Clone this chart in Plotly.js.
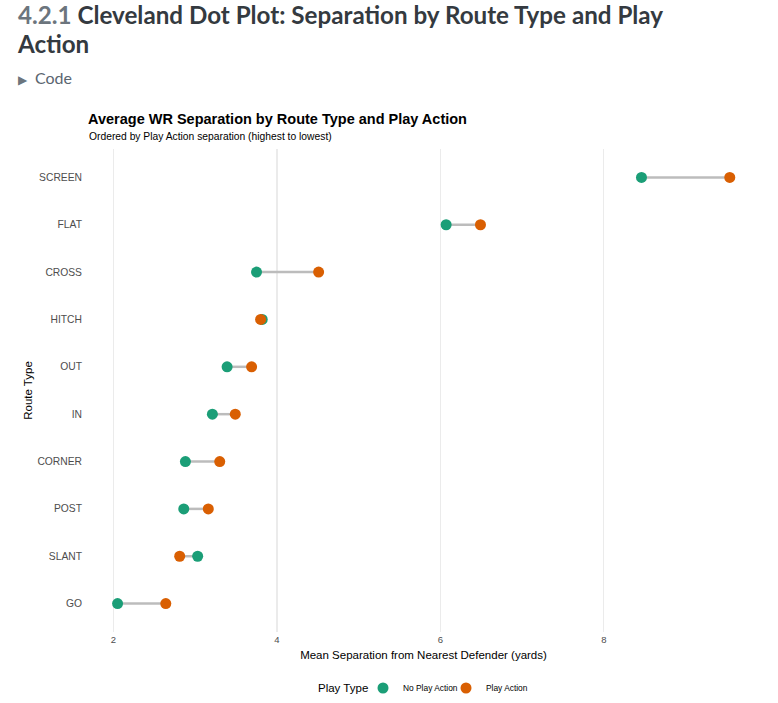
<!DOCTYPE html>
<html>
<head>
<meta charset="utf-8">
<script src="https://cdn.plot.ly/plotly-3.0.1.min.js"></script>
<style>
  html, body { margin: 0; padding: 0; background: #fff; width: 778px; height: 703px; overflow: hidden; }
  #head { position: absolute; left: 18px; top: 0px; font-family: Lato, "Noto Sans", sans-serif; font-weight: 700; font-size: 24.2px; line-height: 29px; color: #343a40; }
  #head .num { color: #6c757d; }
  #code { position: absolute; left: 18px; top: 68px; font-family: Lato, "Noto Sans", sans-serif; font-size: 16px; color: #5a6570; }
  #code .tri { font-size: 12px; color: #6c757d; margin-right: 8px; }
  #chart { position: absolute; left: 0; top: 0; width: 778px; height: 703px; }
</style>
</head>
<body>
<div id="chart"></div>
<div id="head"><span class="num">4.2.1</span> Cleveland Dot Plot: Separation by Route Type and Play<br>Action</div>
<div id="code"><span class="tri">&#9654;</span>Code</div>
<script>
// Routes ordered top to bottom
const routes = ["SCREEN", "FLAT", "CROSS", "HITCH", "OUT", "IN", "CORNER", "POST", "SLANT", "GO"];
const noPlayAction = [8.46, 6.07, 3.75, 3.82, 3.39, 3.21, 2.88, 2.86, 3.03, 2.05];
const playAction   = [9.54, 6.49, 4.51, 3.80, 3.69, 3.49, 3.30, 3.16, 2.81, 2.64];
const xTicks = [2, 4, 6, 8];

const segX = [], segY = [];
routes.forEach((r, i) => {
  segX.push(noPlayAction[i], playAction[i], null);
  segY.push(r, r, null);
});

const traces = [
  { x: segX, y: segY, type: 'scatter', mode: 'lines', line: { color: '#bcbcbc', width: 2.5 }, showlegend: false, hoverinfo: 'skip' },
  { x: noPlayAction, y: routes, type: 'scatter', mode: 'markers', name: 'No Play Action', marker: { color: '#1B9E77', size: 11 }, legend: 'legend' },
  { x: playAction, y: routes, type: 'scatter', mode: 'markers', name: 'Play Action', marker: { color: '#D95F02', size: 11 }, legend: 'legend2' }
];

const legBase = {
  orientation: 'h', xref: 'container', yref: 'container',
  xanchor: 'left', y: 1 - 688 / 703, yanchor: 'middle',
  font: { size: 8.4, color: '#000' }, itemwidth: 30, bgcolor: 'rgba(0,0,0,0)'
};

const layout = {
  width: 778, height: 703,
  paper_bgcolor: '#fff', plot_bgcolor: '#fff',
  margin: { l: 86.5, r: 18, t: 148.6, b: 70.5 },
  font: { family: 'Liberation Sans, Arial, sans-serif', color: '#000' },
  title: {
    text: '<b>Average WR Separation by Route Type and Play Action</b>',
    font: { size: 14.5, color: '#000' },
    x: 88 / 778, xanchor: 'left', xref: 'container',
    y: 1 - 119 / 703, yanchor: 'middle', yref: 'container'
  },
  annotations: [
    { text: 'Ordered by Play Action separation (highest to lowest)', xref: 'paper', yref: 'paper',
      x: (86 - 86.5) / (778 - 86.5 - 18), xanchor: 'left', y: (632.4 - 136) / (632.4 - 148.6), yanchor: 'middle',
      showarrow: false, font: { size: 10.3, color: '#000' } },
    { text: 'Play Type', xref: 'paper', yref: 'paper',
      x: (316 - 86.5) / (778 - 86.5 - 18), xanchor: 'left', y: (632.4 - 688) / (632.4 - 148.6), yanchor: 'middle',
      showarrow: false, font: { size: 11.5, color: '#000' } }
  ],
  xaxis: {
    range: [1.676, 9.91], tickvals: xTicks, ticktext: xTicks.map(String),
    showgrid: true, gridcolor: '#ebebeb', gridwidth: 1.1, zeroline: false, showline: false, ticks: '',
    tickfont: { size: 9.5, color: '#4d4d4d' },
    title: { text: 'Mean Separation from Nearest Defender (yards)', font: { size: 11.5, color: '#000' }, standoff: 7 }
  },
  yaxis: {
    type: 'category', categoryorder: 'array', categoryarray: routes.slice().reverse(),
    range: [-0.6, 9.6], showgrid: false, zeroline: false, showline: false, ticks: '',
    ticklabelstandoff: 4,
    tickfont: { size: 10.3, color: '#4d4d4d' },
    title: { text: 'Route Type', font: { size: 11.5, color: '#000' }, standoff: 2 }
  },
  legend: Object.assign({}, legBase, { x: 363 / 778 }),
  legend2: Object.assign({}, legBase, { x: 446 / 778 }),
  showlegend: true
};

Plotly.newPlot('chart', traces, layout, { displayModeBar: false, staticPlot: true });
</script>
</body>
</html>
